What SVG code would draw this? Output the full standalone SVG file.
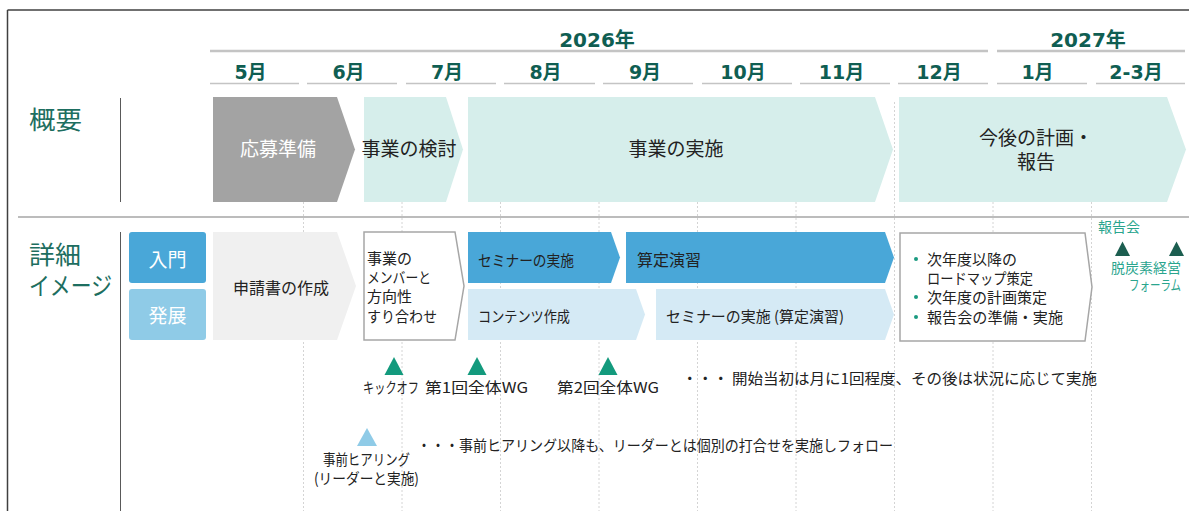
<svg xmlns="http://www.w3.org/2000/svg" width="1189" height="511" viewBox="0 0 1189 511">
<style>
.hdr{font-family:"DejaVu Sans","Noto Sans CJK JP",sans-serif;font-weight:bold;fill:#0f5e52;text-anchor:middle}
.mon{font-size:19px}
.yr{font-size:20px}
.uline{stroke:#c4c4c4;stroke-width:1.5}
.yline{stroke:#c4c4c4;stroke-width:2.5}
.grid{stroke:#d4d4d4;stroke-width:1;stroke-dasharray:2 2}
.sec{font-family:"Noto Sans CJK JP",sans-serif;font-size:25px;fill:#1d6e60}
.jp{font-family:"Noto Sans CJK JP",sans-serif;fill:#222}
.ov{font-size:19px;text-anchor:middle}
.dt{font-size:15px}
.wh{fill:#fff}
.teal{fill:#d6eeeb}
.blue{fill:#49a7d8}
.lblue{fill:#d5eaf5}
.tri{fill:#139a7d}
.tri2{fill:#1c5e50}
.gtxt{font-family:"Noto Sans CJK JP",sans-serif;font-size:14px;fill:#2aa58e}
.bul{fill:#1a9a80}
.box{fill:#fff;stroke:#a6a6a6;stroke-width:1.5}
</style>

<g id="frame">
<line x1="7.5" y1="10" x2="1189" y2="10" stroke="#404040" stroke-width="1.5"/>
<line x1="7.5" y1="10" x2="7.5" y2="511" stroke="#404040" stroke-width="1.5"/>
<line x1="18" y1="217" x2="1189" y2="217" stroke="#a6a6a6" stroke-width="1.5"/>
<line x1="120.5" y1="98" x2="120.5" y2="202" stroke="#595959" stroke-width="1"/>
<line x1="120.5" y1="232" x2="120.5" y2="511" stroke="#595959" stroke-width="1"/>
</g>

<g id="grid">
<line class="grid" x1="303.5" y1="102" x2="303.5" y2="511"/>
<line class="grid" x1="402" y1="102" x2="402" y2="511"/>
<line class="grid" x1="500.5" y1="102" x2="500.5" y2="511"/>
<line class="grid" x1="599" y1="102" x2="599" y2="511"/>
<line class="grid" x1="697.5" y1="102" x2="697.5" y2="511"/>
<line class="grid" x1="796" y1="102" x2="796" y2="511"/>
<line class="grid" x1="894.5" y1="102" x2="894.5" y2="511"/>
<line class="grid" x1="993" y1="102" x2="993" y2="511"/>
<line class="grid" x1="1091.5" y1="102" x2="1091.5" y2="511"/>
</g>

<g id="header">
<line class="yline" x1="210" y1="51" x2="988" y2="51"/>
<line class="yline" x1="997" y1="51" x2="1185" y2="51"/>
<text class="hdr yr" x="597" y="47">2026年</text>
<text class="hdr yr" x="1088" y="47">2027年</text>
<line class="uline" x1="210" y1="83.5" x2="299" y2="83.5"/>
<line class="uline" x1="307" y1="83.5" x2="397" y2="83.5"/>
<line class="uline" x1="406" y1="83.5" x2="496" y2="83.5"/>
<line class="uline" x1="504" y1="83.5" x2="595" y2="83.5"/>
<line class="uline" x1="603" y1="83.5" x2="693" y2="83.5"/>
<line class="uline" x1="702" y1="83.5" x2="792" y2="83.5"/>
<line class="uline" x1="800" y1="83.5" x2="890" y2="83.5"/>
<line class="uline" x1="898" y1="83.5" x2="988" y2="83.5"/>
<line class="uline" x1="997" y1="83.5" x2="1087" y2="83.5"/>
<line class="uline" x1="1096" y1="83.5" x2="1185" y2="83.5"/>
<text class="hdr mon" x="250.5" y="79">5月</text>
<text class="hdr mon" x="348.5" y="79">6月</text>
<text class="hdr mon" x="447" y="79">7月</text>
<text class="hdr mon" x="545.5" y="79">8月</text>
<text class="hdr mon" x="645" y="79">9月</text>
<text class="hdr mon" x="743" y="79">10月</text>
<text class="hdr mon" x="841.5" y="79">11月</text>
<text class="hdr mon" x="939" y="79">12月</text>
<text class="hdr mon" x="1037.5" y="79">1月</text>
<text class="hdr mon" x="1136" y="79">2-3月</text>
</g>

<g id="label-overview"><text class="sec" x="29" y="129" textLength="53" lengthAdjust="spacingAndGlyphs">概要</text></g>
<g id="label-detail">
<text class="sec" x="29" y="264" textLength="52" lengthAdjust="spacingAndGlyphs">詳細</text>
<text class="sec" x="29" y="295" textLength="83" lengthAdjust="spacingAndGlyphs">イメージ</text>
</g>

<g id="ov-prep">
<path d="M213,97 H337 L355,149.5 L337,202 H213 Z" fill="#a3a3a3"/>
<text class="jp ov wh" x="278" y="156">応募準備</text>
</g>
<g id="ov-study">
<path class="teal" d="M364,97 H446 L463,149.5 L446,202 H364 Z"/>
<text class="jp ov" x="409" y="156">事業の検討</text>
</g>
<g id="ov-exec">
<path class="teal" d="M468,97 H875 L893,149.5 L875,202 H468 Z"/>
<text class="jp ov" x="676" y="156">事業の実施</text>
</g>
<g id="ov-plan">
<path class="teal" d="M899,97 H1167 L1186,149.5 L1167,202 H899 Z"/>
<text class="jp ov" x="1036" y="145" font-size="18.5">今後の計画・</text>
<text class="jp ov" x="1036" y="169" font-size="18.5">報告</text>
</g>

<g id="lv-intro">
<rect x="129" y="232" width="77" height="51" rx="3" fill="#49a7d8"/>
<text class="jp wh" x="167.5" y="267" font-size="19" text-anchor="middle">入門</text>
</g>
<g id="lv-adv">
<rect x="129" y="289" width="77" height="51" rx="3" fill="#8fcbe7"/>
<text class="jp wh" x="167.5" y="323" font-size="19" text-anchor="middle">発展</text>
</g>

<g id="dt-apply">
<path d="M213,232 H337 L356,286 L337,340 H213 Z" fill="#f0f0f0"/>
<text class="jp" x="281" y="294" font-size="16" text-anchor="middle">申請書の作成</text>
</g>
<g id="dt-align">
<path class="box" d="M364,232 H455 L464,286 L455,340 H364 Z"/>
<text class="jp dt" x="367" y="264">事業の</text>
<text class="jp dt" x="367" y="283" textLength="64" lengthAdjust="spacingAndGlyphs">メンバーと</text>
<text class="jp dt" x="367" y="302">方向性</text>
<text class="jp dt" x="367" y="322" textLength="70" lengthAdjust="spacingAndGlyphs">すり合わせ</text>
</g>
<g id="dt-seminar">
<path class="blue" d="M468,232 H611 L620,257.5 L611,283 H468 Z"/>
<text class="jp dt" x="478" y="266" textLength="96" lengthAdjust="spacingAndGlyphs">セミナーの実施</text>
</g>
<g id="dt-calc">
<path class="blue" d="M626,232 H885 L894,257.5 L885,283 H626 Z"/>
<text class="jp" x="637" y="266" font-size="16">算定演習</text>
</g>
<g id="dt-content">
<path class="lblue" d="M468,289 H636 L645,314.5 L636,340 H468 Z"/>
<text class="jp dt" x="478" y="322" textLength="92" lengthAdjust="spacingAndGlyphs">コンテンツ作成</text>
</g>
<g id="dt-seminar2">
<path class="lblue" d="M656,289 H885 L894,314.5 L885,340 H656 Z"/>
<text class="jp dt" x="666" y="322" textLength="178" lengthAdjust="spacingAndGlyphs">セミナーの実施 (算定演習)</text>
</g>
<g id="dt-next">
<path class="box" d="M900,233 H1085 L1092,287 L1085,341 H900 Z"/>
<circle class="bul" cx="916" cy="259" r="2"/>
<circle class="bul" cx="916" cy="297" r="2"/>
<circle class="bul" cx="916" cy="317" r="2"/>
<text class="jp dt" x="927" y="265" font-size="15.5">次年度以降の</text>
<text class="jp dt" x="927" y="284" textLength="106" lengthAdjust="spacingAndGlyphs">ロードマップ策定</text>
<text class="jp dt" x="927" y="303" font-size="15.5">次年度の計画策定</text>
<text class="jp dt" x="927" y="323" textLength="136" lengthAdjust="spacingAndGlyphs">報告会の準備・実施</text>
</g>

<g id="ev-report">
<text class="gtxt" x="1098" y="232" font-size="14.5">報告会</text>
<polygon class="tri2" points="1115,256 1122.5,241.5 1130,256"/>
</g>
<g id="ev-forum">
<polygon class="tri2" points="1169,256 1176.5,241.5 1184,256"/>
<text class="gtxt" x="1181" y="273" text-anchor="end" textLength="70" lengthAdjust="spacingAndGlyphs">脱炭素経営</text>
<text class="gtxt" x="1181" y="290" text-anchor="end" textLength="52" lengthAdjust="spacingAndGlyphs">フォーラム</text>
</g>

<g id="ms-kickoff">
<polygon class="tri" points="384.5,375 394,357 403.5,375"/>
<text class="jp dt" x="363" y="393" textLength="56" lengthAdjust="spacingAndGlyphs">キックオフ</text>
</g>
<g id="ms-wg1">
<polygon class="tri" points="467.5,375 477,357 486.5,375"/>
<text class="jp dt" x="425" y="393" textLength="103" lengthAdjust="spacingAndGlyphs">第1回全体WG</text>
</g>
<g id="ms-wg2">
<polygon class="tri" points="598.5,375 608,357 617.5,375"/>
<text class="jp dt" x="557" y="393" textLength="102" lengthAdjust="spacingAndGlyphs">第2回全体WG</text>
</g>
<g id="ms-note1">
<text class="jp dt" x="682" y="384" textLength="415" lengthAdjust="spacingAndGlyphs">・・・ 開始当初は月に1回程度、その後は状況に応じて実施</text>
</g>
<g id="ms-hearing">
<polygon points="357,446 367,428 377,446" fill="#8fcbe7"/>
<text class="jp dt" x="366.5" y="465" text-anchor="middle" textLength="87" lengthAdjust="spacingAndGlyphs">事前ヒアリング</text>
<text class="jp dt" x="366.5" y="484" text-anchor="middle" textLength="105" lengthAdjust="spacingAndGlyphs">(リーダーと実施)</text>
</g>
<g id="ms-note2">
<text class="jp dt" x="417" y="451" textLength="476" lengthAdjust="spacingAndGlyphs">・・・事前ヒアリング以降も、リーダーとは個別の打合せを実施しフォロー</text>
</g>

<g id="connectors"></g>
</svg>
